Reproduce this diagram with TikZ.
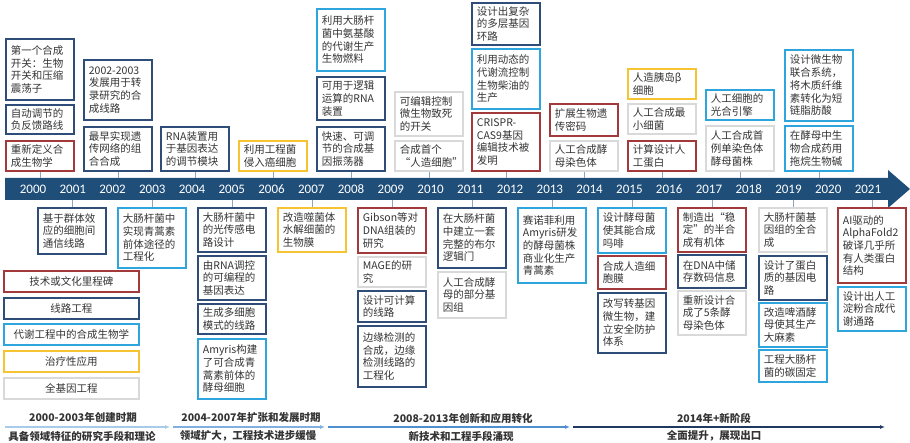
\documentclass[tikz,border=0pt]{standalone}
\usepackage{fontspec}
\setmainfont{Noto Sans CJK SC}
\newfontfamily\yearfont{Carlito}
\usepackage{tikz}
\usetikzlibrary{positioning, arrows.meta, calc}
\definecolor{barblue}{HTML}{1F4E79}
\definecolor{circblue}{HTML}{2E4D78}
\definecolor{metcyan}{HTML}{2EA6DD}
\definecolor{milered}{HTML}{A23A3C}
\definecolor{theryel}{HTML}{F6C333}
\definecolor{genogray}{HTML}{D9D9D9}
\definecolor{txtgray}{HTML}{333333}
\definecolor{tickgray}{HTML}{8EA5C2}
\definecolor{phase1}{HTML}{A9CBEA}
\definecolor{phase2}{HTML}{7FB0E0}
\definecolor{phase3}{HTML}{4F8FD0}
\definecolor{phase4}{HTML}{1F3A60}
\newcommand{\boxfont}{\fontsize{10.5}{12.7}\selectfont}
\tikzset{
    box/.style = {draw, line width=1.8pt, anchor=north west, text width=58pt,
                  inner xsep=5pt, inner ysep=2pt, align=left,
                  font=\boxfont, text=txtgray},
    circuit/.style = {box, draw=circblue},
    metab/.style = {box, draw=metcyan},
    milestone/.style = {box, draw=milered},
    therapy/.style = {box, draw=theryel},
    genome/.style = {box, draw=genogray},
    legend/.style = {draw, line width=1.8pt, anchor=north west,
                     minimum width=135pt, minimum height=21pt,
                     font=\boxfont, text=txtgray},
    year/.style = {text=white, font=\yearfont\fontsize{13}{13}\selectfont},
    tick/.style = {tickgray, line width=0.8pt},
    phase/.style = {font=\bfseries\fontsize{10.5}{12}\selectfont, text=txtgray},
    phasearrow/.style = {-{Latex[length=5pt,width=4pt]}, line width=1.6pt},
}
\begin{document}
\begin{tikzpicture}[x=1pt, y=-1pt]
        \useasboundingbox (0,0) rectangle (910,443);
        % timeline bar
        \fill[barblue] (5,178) -- (888,178) -- (888,170) -- (910,189)
              -- (888,208) -- (888,200) -- (5,200) -- cycle;
        \coordinate (bartop) at (0,178);
        \coordinate (barbot) at (0,200);
        \foreach \yr [count=\i from 0] in {2000,...,2021}
            \node[year] (y\yr) at ({33+39.76*\i},189) {\yr};
        % events above the bar
        \node[circuit, minimum height=61] (a1) at (5,38) {第一个合成\\开关：生物\\开关和压缩\\震荡子};
        \node[circuit, minimum height=29] (a2) at (5,104) {自动调节的\\负反馈路线};
        \node[milestone, minimum height=30] (a3) at (5,140) {重新定义合\\成生物学};
        \node[circuit, minimum height=60] (b1) at (83,59) {2002-2003\\发展用于转\\录研究的合\\成线路};
        \node[circuit, minimum height=44] (b2) at (83,126) {最早实现遗\\传网络的组\\合合成};
        \node[circuit, minimum height=44] (c1) at (160,126) {RNA装置用\\于基因表达\\的调节模块};
        \node[therapy, minimum height=30] (d1) at (238,140) {利用工程菌\\侵入癌细胞};
        \node[metab, minimum height=62] (e1) at (316,8) {利用大肠杆\\菌中氨基酸\\的代谢生产\\生物燃料};
        \node[circuit, minimum height=43] (e2) at (316,76) {可用于逻辑\\运算的RNA\\装置};
        \node[circuit, minimum height=44] (e3) at (316,126) {快速、可调\\节的合成基\\因振荡器};
        \node[genome, minimum height=44] (f1) at (394,91) {可编辑控制\\微生物致死\\的开关};
        \node[genome, minimum height=30] (f2) at (394,140) {合成首个\\“人造细胞”};
        \node[circuit, minimum height=42] (g1) at (471,2) {设计出复杂\\的多层基因\\环路};
        \node[metab, minimum height=60] (g2) at (471,48) {利用动态的\\代谢流控制\\生物柴油的\\生产};
        \node[milestone, minimum height=58] (g3) at (471,112) {CRISPR-\\CAS9基因\\编辑技术被\\发明};
        \node[milestone, minimum height=32] (h1) at (549,103) {扩展生物遗\\传密码};
        \node[genome, minimum height=30] (h2) at (549,140) {人工合成酵\\母染色体};
        \node[therapy, minimum height=30] (i1) at (627,68) {人造胰岛β\\细胞};
        \node[genome, minimum height=30] (i2) at (627,103) {人工合成最\\小细菌};
        \node[milestone, minimum height=30] (i3) at (627,140) {计算设计人\\工蛋白};
        \node[metab, minimum height=30] (j1) at (705,89) {人工细胞的\\光合引擎};
        \node[genome, minimum height=45] (j2) at (705,125) {人工合成首\\例单染色体\\酵母菌株};
        \node[metab, minimum height=71] (k1) at (784,49) {设计微生物\\联合系统，\\将木质纤维\\素转化为短\\链脂肪酸};
        \node[metab, minimum height=45] (k2) at (784,125) {在酵母中生\\物合成药用\\拖烷生物碱};
        \foreach \b in {a3,b2,c1,d1,e3,f2,g3,h2,i3,j2,k2}
            \draw[tick] (\b.south) -- (\b.south |- bartop);
        % events below the bar
        \node[circuit, minimum height=46] (l1) at (37,207) {基于群体效\\应的细胞间\\通信线路};
        \node[metab, minimum height=60] (m1) at (117,207) {大肠杆菌中\\实现青蒿素\\前体途径的\\工程化};
        \node[circuit, minimum height=44] (n1) at (197,207) {大肠杆菌中\\的光传感电\\路设计};
        \node[circuit, minimum height=44] (n2) at (197,255) {由RNA调控\\的可编程的\\基因表达};
        \node[circuit, minimum height=30] (n3) at (197,303) {生成多细胞\\模式的线路};
        \node[metab, minimum height=60] (n4) at (197,338) {Amyris构建\\了可合成青\\蒿素前体的\\酵母细胞};
        \node[therapy, minimum height=44] (o1) at (277,207) {改造噬菌体\\水解细菌的\\生物膜};
        \node[milestone, minimum height=45] (p1) at (357,207) {Gibson等对\\DNA组装的\\研究};
        \node[genome, minimum height=30] (p2) at (357,256) {MAGE的研\\究};
        \node[circuit, minimum height=31] (p3) at (357,290) {设计可计算\\的线路};
        \node[circuit, minimum height=61] (p4) at (357,325) {边缘检测的\\合成，边缘\\检测线路的\\工程化};
        \node[circuit, minimum height=60] (q1) at (437,207) {在大肠杆菌\\中建立一套\\完整的布尔\\逻辑门};
        \node[genome, minimum height=46] (q2) at (437,271) {人工合成酵\\母的部分基\\因组};
        \node[metab, minimum height=75] (r1) at (517,207) {赛诺菲利用\\Amyris研发\\的酵母菌株\\商业化生产\\青蒿素};
        \node[metab, minimum height=45] (s1) at (597,207) {设计酵母菌\\使其能合成\\吗啡};
        \node[milestone, minimum height=33] (s2) at (597,255) {合成人造细\\胞膜};
        \node[circuit, minimum height=60] (s3) at (597,292) {改写转基因\\微生物，建\\立安全防护\\体系};
        \node[milestone, minimum height=44] (t1) at (677,207) {制造出“稳\\定”的半合\\成有机体};
        \node[circuit, minimum height=33] (t2) at (677,254) {在DNA中储\\存数码信息};
        \node[genome, minimum height=44] (t3) at (677,290) {重新设计合\\成了5条酵\\母染色体};
        \node[genome, minimum height=44] (u1) at (758,207) {大肠杆菌基\\因组的全合\\成};
        \node[circuit, minimum height=44] (u2) at (758,255) {设计了蛋白\\质的基因电\\路};
        \node[metab, minimum height=44] (u3) at (758,302) {改造啤酒酵\\母使其生产\\大麻素};
        \node[metab, minimum height=32] (u4) at (758,349) {工程大肠杆\\菌的碳固定};
        \node[milestone, minimum height=75] (v1) at (837,207) {AI驱动的\\AlphaFold2\\破译几乎所\\有人类蛋白\\结构};
        \node[metab, minimum height=44] (v2) at (837,286) {设计出人工\\淀粉合成代\\谢通路};
        \foreach \b in {l1,m1,n1,o1,p1,q1,r1,s1,t1,u1,v1}
            \draw[tick] (\b.north) -- (\b.north |- barbot);
        % legend
        \node[legend, draw=milered] (lg1) at (3,270) {技术或文化里程碑};
        \node[legend, draw=circblue] (lg2) at (3,297) {线路工程};
        \node[legend, draw=metcyan] (lg3) at (3,323) {代谢工程中的合成生物学};
        \node[legend, draw=theryel] (lg4) at (3,350) {治疗性应用};
        \node[legend, draw=genogray] (lg5) at (3,377) {全基因工程};
        % phases
        \coordinate (p0) at (5,427);
        \coordinate (pa) at (170,427);
        \coordinate (pb) at (173,427);
        \coordinate (pc) at (325,427);
        \coordinate (pd) at (328,427);
        \coordinate (pe) at (570,427);
        \coordinate (pf) at (573,427);
        \coordinate (pg) at (885,427);
        \draw[phasearrow, phase1] (p0) -- (pa);
        \draw[phasearrow, phase2] (pb) -- (pc);
        \draw[phasearrow, phase3] (pd) -- (pe);
        \draw[phasearrow, phase4] (pf) -- (pg);
        \node[phase] (ph1) at (83,418) {2000-2003年创建时期};
        \node[phase] (pt1) at (82,436) {具备领域特征的研究手段和理论};
        \node[phase] (ph2) at (251,418) {2004-2007年扩张和发展时期};
        \node[phase] (pt2) at (248,436) {领域扩大，工程技术进步缓慢};
        \node[phase] (ph3) at (463,418) {2008-2013年创新和应用转化};
        \node[phase] (pt3) at (461,436) {新技术和工程手段涌现};
        \node[phase] (ph4) at (714,418) {2014年+新阶段};
        \node[phase] (pt4) at (714,436) {全面提升，展现出口};
      \end{tikzpicture}
\end{document}
